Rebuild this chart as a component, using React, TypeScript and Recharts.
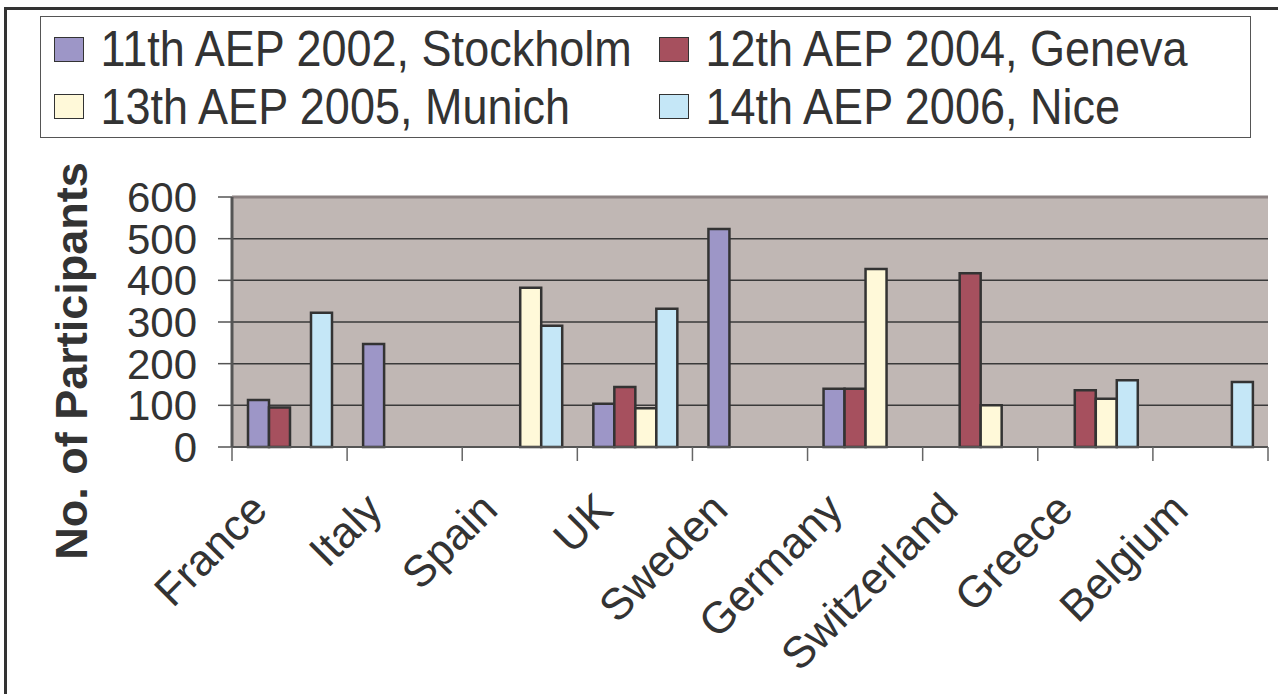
import { BarChart, Bar, XAxis, YAxis, CartesianGrid, ReferenceLine } from 'recharts';

const countries = ['France', 'Italy', 'Spain', 'UK', 'Sweden', 'Germany', 'Switzerland', 'Greece', 'Belgium'];

const stockholm2002 = [113, 247, null, 104, 523, 140, null, null, null];
const geneva2004 = [95, null, null, 144, null, 140, 417, 136, null];
const munich2005 = [null, null, 382, 93, null, 427, 100, 116, null];
const nice2006 = [322, null, 291, 332, null, null, null, 160, 156];

const seriesNames = ['11th AEP 2002, Stockholm', '12th AEP 2004, Geneva', '13th AEP 2005, Munich', '14th AEP 2006, Nice'];
const seriesKeys = ['s2002', 's2004', 's2005', 's2006'];
const seriesColors = ['#9d96c7', '#a6505e', '#fff9d9', '#c5e7f7'];

const yTicks = [0, 100, 200, 300, 400, 500, 600];

const data = countries.map((country, i) => ({
  country,
  s2002: stockholm2002[i],
  s2004: geneva2004[i],
  s2005: munich2005[i],
  s2006: nice2006[i],
}));

const W = 1278;
const H = 694;
const PLOT_LEFT = 232;
const PLOT_RIGHT = 1268;
const PLOT_W = PLOT_RIGHT - PLOT_LEFT;
const FONT = '"Liberation Sans", Arial, sans-serif';

function XTick(props: any) {
  const { x, y, payload, index } = props;
  const band = PLOT_W / countries.length;
  const lx = x - 20;
  const ly = y + 65;
  return (
    <g>
      <line x1={x - band / 2} y1={y} x2={x - band / 2} y2={y + 14} stroke="#666" strokeWidth={1.5} />
      {index === countries.length - 1 && (
        <line x1={x + band / 2} y1={y} x2={x + band / 2} y2={y + 14} stroke="#666" strokeWidth={1.5} />
      )}
      <text
        x={lx}
        y={ly}
        textAnchor="end"
        transform={`rotate(-45 ${lx} ${ly})`}
        fontSize={44}
        fontFamily={FONT}
        fill="#333"
      >
        {payload.value}
      </text>
    </g>
  );
}

function Legend() {
  const cols = [0, 605];
  const rows = [6, 63.5];
  return (
    <div
      style={{
        position: 'absolute',
        left: 40,
        top: 16,
        width: 1211,
        height: 122,
        border: '1.5px solid #555',
        boxSizing: 'border-box',
        background: '#fff',
      }}
    >
      {seriesNames.map((name, i) => (
        <div
          key={name}
          style={{
            position: 'absolute',
            left: 12.5 + cols[i % 2],
            top: rows[Math.floor(i / 2)],
            height: 52,
            display: 'flex',
            alignItems: 'center',
            fontFamily: FONT,
            fontSize: 45,
            color: '#333',
            whiteSpace: 'nowrap',
          }}
        >
          <div
            style={{
              width: 30,
              height: 25,
              background: seriesColors[i],
              border: '1.5px solid #333',
              boxSizing: 'border-box',
              marginRight: 17,
            }}
          />
          <span style={{ display: 'inline-block', transform: 'scaleY(1.12)' }}>{name}</span>
        </div>
      ))}
    </div>
  );
}

export default function App() {
  return (
    <div style={{ position: 'fixed', left: 0, top: 0, width: W, height: H, background: '#fff', overflow: 'hidden' }}>
      <div
        style={{
          position: 'absolute',
          left: 4,
          top: 7,
          width: 1300,
          height: 720,
          border: '3px solid #333',
          boxSizing: 'border-box',
        }}
      />
      <div style={{ position: 'absolute', left: 0, top: 0 }}>
        <BarChart
          width={W}
          height={H}
          data={data}
          margin={{ top: 197, right: W - PLOT_RIGHT, left: 0, bottom: 0 }}
          barCategoryGap={16}
          barGap={0}
        >
          <CartesianGrid
            vertical={false}
            horizontal
            stroke="#3a3a3a"
            strokeWidth={1.5}
            fill="#c0b7b4"
            fillOpacity={1}
          />
          <XAxis
            dataKey="country"
            height={247}
            tickSize={0}
            tickMargin={0}
            tickLine={false}
            axisLine={{ stroke: '#555', strokeWidth: 2 }}
            interval={0}
            tick={<XTick />}
          />
          <YAxis
            domain={[0, 600]}
            ticks={yTicks}
            width={PLOT_LEFT}
            tickSize={14}
            tickMargin={21}
            interval={0}
            axisLine={{ stroke: '#555', strokeWidth: 3 }}
            tickLine={{ stroke: '#555', strokeWidth: 1.5 }}
            tick={{ fontSize: 42, fill: '#333', fontFamily: FONT }}
            label={{
              content: () => (
                <text
                  x={87}
                  y={361}
                  transform="rotate(-90 87 361)"
                  textAnchor="middle"
                  fontSize={45}
                  fontWeight="bold"
                  fontFamily={FONT}
                  fill="#333"
                >
                  No. of Participants
                </text>
              ),
            }}
          />
          <YAxis
            yAxisId="right"
            orientation="right"
            width={0}
            domain={[0, 600]}
            tick={false}
            tickLine={false}
            axisLine={{ stroke: '#8c8282', strokeWidth: 3 }}
          />
          <ReferenceLine y={600} stroke="#8c8282" strokeWidth={3} />
          {seriesKeys.map((key, i) => (
            <Bar
              key={key}
              dataKey={key}
              name={seriesNames[i]}
              fill={seriesColors[i]}
              stroke="#333"
              strokeWidth={2.5}
              isAnimationActive={false}
            />
          ))}
        </BarChart>
      </div>
      <Legend />
    </div>
  );
}
